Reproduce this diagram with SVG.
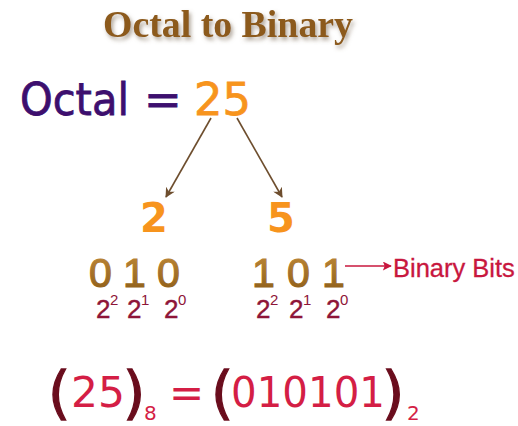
<svg xmlns="http://www.w3.org/2000/svg" width="518" height="426" viewBox="0 0 518 426">
  <defs>
    <filter id="shadow" x="-10%" y="-30%" width="130%" height="180%">
      <feDropShadow dx="2" dy="3" stdDeviation="2" flood-color="#7a6a55" flood-opacity="0.6"/>
    </filter>
    <linearGradient id="gold" x1="0" y1="0" x2="0" y2="1">
      <stop offset="0" stop-color="#C08A3A"/>
      <stop offset="1" stop-color="#8A5A16"/>
    </linearGradient>
    <marker id="ah" viewBox="0 0 10 10" refX="9" refY="5" markerWidth="10" markerHeight="10" markerUnits="userSpaceOnUse" orient="auto">
      <path d="M0,0 L10,5 L0,10 L3,5 Z" fill="#6E4E2E"/>
    </marker>
    <marker id="ah2" viewBox="0 0 10 10" refX="9" refY="5" markerWidth="11" markerHeight="9" markerUnits="userSpaceOnUse" orient="auto">
      <path d="M0,0 L10,5 L0,10 L2,5 Z" fill="#C8173E"/>
    </marker>
  </defs>
  <style>
    .title { font-family: "Liberation Serif", serif; font-weight: bold; font-size: 37px; fill: #8C5A1C; }
    .big { font-family: "DejaVu Sans", sans-serif; font-size: 45px; stroke-width: 0.8px; }
    .oct { fill: #3D0F6E; stroke: #3D0F6E; }
    .orange { fill: #F7941D; stroke: #F7941D; }
    .digit { font-family: "DejaVu Sans", sans-serif; font-weight: bold; font-size: 40px; fill: #F7941D; }
    .bit { font-family: "Liberation Sans", Arial, sans-serif; font-size: 41px; fill: url(#gold); stroke: url(#gold); stroke-width: 1.2px; }
    .pow { font-family: "Liberation Sans", Arial, sans-serif; font-size: 26px; fill: #8E1538; stroke: #8E1538; stroke-width: 0.4px; }
    .sup { font-family: "Liberation Sans", Arial, sans-serif; font-size: 15px; fill: #8E1538; }
    .label { font-family: "Liberation Sans", Arial, sans-serif; font-size: 25.5px; fill: #C8173E; stroke: #C8173E; stroke-width: 0.3px; }
    .eq { font-family: "DejaVu Sans", sans-serif; font-size: 42px; fill: #D41E45; }
    .paren { font-family: "DejaVu Sans", sans-serif; font-size: 57px; fill: #6A0D1D; stroke: #6A0D1D; stroke-width: 1.3px; }
    .sub { font-family: "DejaVu Sans", sans-serif; font-size: 20px; fill: #D41E45; }
    .conn { stroke: #6E4E2E; stroke-width: 1.6; fill: none; }
  </style>

  <g id="title">
    <text class="title" x="103" y="37" textLength="250" lengthAdjust="spacingAndGlyphs" filter="url(#shadow)">Octal to Binary</text>
  </g>

  <g id="octal">
    <text class="big oct" x="20" y="115" textLength="109" lengthAdjust="spacingAndGlyphs">Octal</text>
    <text class="big oct" x="144" y="115">=</text>
    <text class="big orange" x="194" y="115" textLength="57" lengthAdjust="spacingAndGlyphs">25</text>
  </g>

  <g id="connectors">
    <line class="conn" x1="211" y1="118" x2="166" y2="197" marker-end="url(#ah)"/>
    <line class="conn" x1="237" y1="118" x2="282" y2="197" marker-end="url(#ah)"/>
    <line x1="345" y1="266" x2="391" y2="266" stroke="#C8173E" stroke-width="1.6" marker-end="url(#ah2)"/>
  </g>

  <g id="digit2">
    <text class="digit" x="140" y="232">2</text>
  </g>
  <g id="digit5">
    <text class="digit" x="267" y="232">5</text>
  </g>

  <g id="bits2">
    <text class="bit" x="89" y="287">0</text>
    <text class="bit" x="123" y="287">1</text>
    <text class="bit" x="157" y="287">0</text>
    <text class="pow" x="96" y="318">2</text><text class="sup" x="110" y="305">2</text>
    <text class="pow" x="127" y="318">2</text><text class="sup" x="141" y="305">1</text>
    <text class="pow" x="164" y="318">2</text><text class="sup" x="178" y="305">0</text>
  </g>

  <g id="bits5">
    <text class="bit" x="252" y="287">1</text>
    <text class="bit" x="287" y="287">0</text>
    <text class="bit" x="322" y="287">1</text>
    <text class="pow" x="256" y="318">2</text><text class="sup" x="270" y="305">2</text>
    <text class="pow" x="289" y="318">2</text><text class="sup" x="303" y="305">1</text>
    <text class="pow" x="326" y="318">2</text><text class="sup" x="340" y="305">0</text>
  </g>

  <g id="label">
    <text class="label" x="393" y="277">Binary Bits</text>
  </g>

  <g id="equation">
    <text class="paren" x="48" y="412">(</text>
    <text class="eq" x="71" y="407" textLength="54" lengthAdjust="spacingAndGlyphs">25</text>
    <text class="paren" x="123" y="412">)</text>
    <text class="sub" x="144" y="420">8</text>
    <text class="eq" x="169" y="407">=</text>
    <text class="paren" x="211" y="412">(</text>
    <text class="eq" x="231" y="407" textLength="154" lengthAdjust="spacingAndGlyphs">010101</text>
    <text class="paren" x="382" y="412">)</text>
    <text class="sub" x="407" y="420">2</text>
  </g>
</svg>
